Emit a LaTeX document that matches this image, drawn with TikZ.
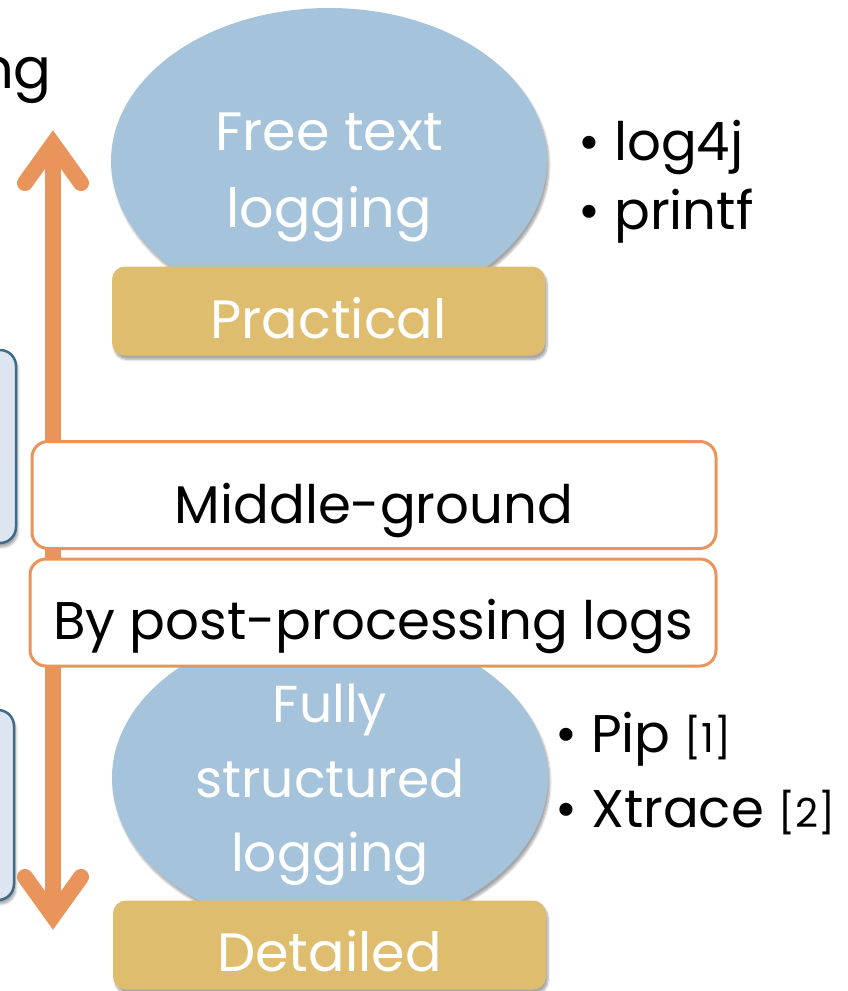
\documentclass[tikz,border=0pt]{standalone}
\usepackage{fontspec}
\setmainfont{Poppins}
\usetikzlibrary{shadows.blur,shapes.geometric}
\definecolor{arroworange}{RGB}{232,148,90}
\definecolor{ellblue}{RGB}{165,195,219}
\definecolor{goldfill}{RGB}{223,189,110}
\definecolor{paleblue}{RGB}{220,229,240}
\definecolor{steel}{RGB}{62,108,140}
\tikzset{
  softshadow/.style={blur shadow={shadow xshift=2pt,shadow yshift=-4pt,shadow blur steps=6,shadow opacity=35}},
  ellnode/.style={ellipse,fill=ellblue,minimum width=436pt,minimum height=306pt,inner sep=0pt,softshadow},
  goldbox/.style={rectangle,rounded corners=13pt,fill=goldfill,minimum width=433pt,minimum height=89pt,inner sep=0pt,softshadow},
  midbox/.style={rectangle,rounded corners=16pt,fill=white,draw=arroworange,line width=3pt,minimum width=684pt,minimum height=107pt,inner sep=0pt},
  sidebox/.style={rounded corners=16pt,fill=paleblue,draw=steel,line width=2.5pt,softshadow},
  lbl/.style={anchor=base,inner sep=0pt,font=\fontsize{54}{60}\selectfont},
  whitelbl/.style={lbl,text=white},
  bullettext/.style={anchor=base west,inner sep=0pt,font=\fontsize{53}{60}\selectfont},
  arrowline/.style={draw=arroworange,line width=16pt},
  arrowhead/.style={draw=arroworange,line width=16pt,line cap=round,line join=miter}
}
\begin{document}
\begin{tikzpicture}[x=1pt,y=-1pt]
\useasboundingbox (0,0) rectangle (848,991);
\begin{scope}
\clip (0,0) rectangle (848,991);
% partial text top-left
\node[anchor=base east,inner sep=0pt,font=\fontsize{56}{60}\selectfont] (ng) at (52,88) {ng};
% left partial boxes
\draw[sidebox] (-60,350) rectangle (16,543);
\draw[sidebox] (-60,710) rectangle (14,900);
% ellipses
\node[ellnode] (topell) at (329,161) {};
\node[ellnode] (botell) at (330,778) {};
\node[whitelbl] (free) at (329,150) {Free text};
\node[whitelbl] (logA) at (329,227) {logging};
\node[whitelbl,font=\fontsize{52}{60}\selectfont] (fully) at (330,722) {Fully};
\node[whitelbl,font=\fontsize{52}{60}\selectfont] (struct) at (330,797) {structured};
\node[whitelbl,font=\fontsize{52}{60}\selectfont] (logB) at (330,871) {logging};
% gold boxes
\node[goldbox] (practical) at (328.5,311) {};
\node[goldbox] (detailed) at (329.5,945) {};
\node[whitelbl] (practicalT) at (328.5,338) {Practical};
\node[whitelbl] (detailedT) at (329.5,971) {Detailed};
% arrow
\coordinate (atop) at (53,144);
\coordinate (abot) at (53,916);
\draw[arrowline] (atop) -- (abot);
\draw[arrowhead] (25,183) -- (atop) -- (81,183);
\draw[arrowhead] (25,877) -- (abot) -- (81,877);
% middle boxes
\node[midbox] (middle) at (374,495) {};
\node[midbox,minimum width=686pt] (post) at (373,612.5) {};
\node[lbl,font=\fontsize{53}{60}\selectfont] (middleT) at (374,523) {Middle-ground};
\node[lbl,font=\fontsize{53}{60}\selectfont] (postT) at (373,639) {By post-processing logs};
% bullets
\node[bullettext] (b1) at (578,160) {• log4j};
\node[bullettext] (b2) at (578,229) {• printf};
\node[bullettext] (b3) at (555,752) {• Pip {\fontsize{40}{44}\selectfont [1]}};
\node[bullettext] (b4) at (555,827) {• Xtrace {\fontsize{40}{44}\selectfont [2]}};
\end{scope}
\end{tikzpicture}
\end{document}
